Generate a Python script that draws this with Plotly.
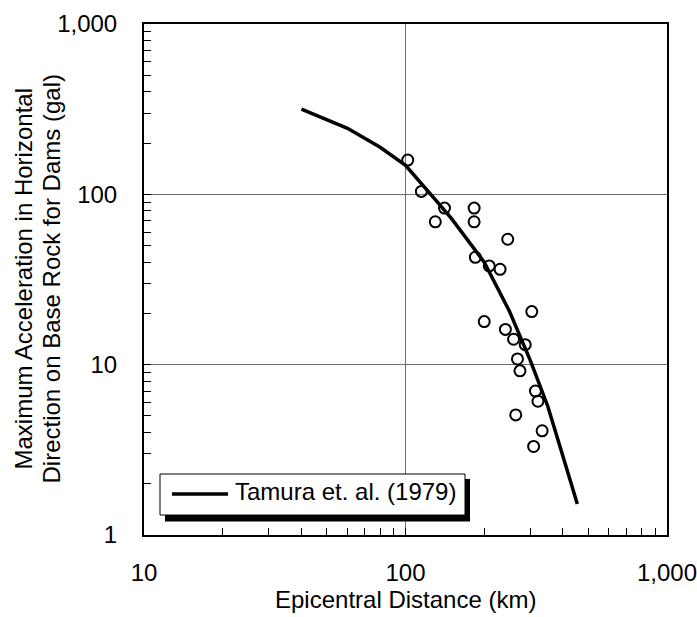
import plotly.graph_objects as go

# Observed data (epicentral distance km, max acceleration gal)
obs_dist = [102, 115, 130, 141, 183, 183, 185, 200, 209, 230, 241, 246, 259, 264, 268, 274, 287, 304, 309, 314, 321, 333]
obs_acc = [159, 104, 69, 83, 83, 69, 42.7, 17.9, 38, 36.3, 16.1, 54.5, 14.1, 5.07, 10.8, 9.2, 13.1, 20.5, 3.31, 7.0, 6.1, 4.09]

# Tamura et al. (1979) curve
curve_dist = [40, 60, 80, 100, 130, 150, 200, 250, 300, 350, 400, 454]
curve_acc = [316, 244, 189, 148, 93, 72, 40, 20.5, 10.6, 5.7, 2.9, 1.52]
curve_name = "Tamura et. al. (1979)"

x_tickvals = [10, 100, 1000]
x_ticktext = ["10", "100", "1,000"]
y_tickvals = [1, 10, 100, 1000]
y_ticktext = ["1", "10", "100", "1,000"]
x_minor = [v * m for m in (10, 100) for v in range(2, 10)]
y_minor = [v * m for m in (1, 10, 100) for v in range(2, 10)]

FONT = "Liberation Sans, Arial, sans-serif"
W, H = 697, 617
L, R, T, B = 144, 30, 24, 82
pw, ph = W - L - R, H - T - B


def px(x):
    return (x - L) / pw


def py(y):
    return (H - B - y) / ph


fig = go.Figure()
fig.add_trace(go.Scatter(x=curve_dist, y=curve_acc, mode="lines", name=curve_name,
                         line=dict(color="black", width=3.5), showlegend=False))
fig.add_trace(go.Scatter(x=obs_dist, y=obs_acc, mode="markers", name="Observed",
                         marker=dict(symbol="circle-open", size=11, color="black",
                                     line=dict(width=2, color="black")),
                         showlegend=False))

axis_common = dict(
    type="log", showline=True, linecolor="black", linewidth=2, mirror=True,
    ticks="inside", ticklen=7, tickwidth=1, tickcolor="black",
    showgrid=True, gridcolor="#6e6e6e", gridwidth=1, zeroline=False,
    tickfont=dict(family=FONT, size=24, color="black"),
    ticklabeloverflow="allow", automargin=False,
)

fig.update_xaxes(range=[0.99999, 3.00001], tickvals=x_tickvals, ticktext=x_ticktext,
                 ticklabelstandoff=15,
                 minor=dict(tickvals=x_minor, ticks="inside", ticklen=7, tickwidth=1,
                            tickcolor="black", showgrid=False),
                 **axis_common)
fig.update_yaxes(range=[-0.00001, 3.00001], tickvals=y_tickvals, ticktext=y_ticktext,
                 ticklabelstandoff=20,
                 minor=dict(tickvals=y_minor, ticks="inside", ticklen=7, tickwidth=1,
                            tickcolor="black", showgrid=False),
                 **axis_common)

shapes = [
    # legend shadow
    dict(type="rect", xref="paper", yref="paper", x0=px(165), x1=px(470), y0=py(521.5), y1=py(479),
         fillcolor="black", line=dict(width=0), layer="above"),
    # legend box
    dict(type="rect", xref="paper", yref="paper", x0=px(160), x1=px(465), y0=py(515), y1=py(474),
         fillcolor="white", line=dict(color="black", width=1), layer="above"),
    # legend sample line
    dict(type="line", xref="paper", yref="paper", x0=px(172), x1=px(228), y0=py(494), y1=py(494),
         line=dict(color="black", width=3.5), layer="above"),
]

annotations = [
    dict(text=curve_name, xref="paper", yref="paper", x=px(233), y=py(491),
         xanchor="left", yanchor="middle", showarrow=False,
         font=dict(family=FONT, size=24, color="black")),
    dict(text="Epicentral Distance (km)", xref="paper", yref="paper", x=0.5, y=py(599),
         xanchor="center", yanchor="middle", showarrow=False,
         font=dict(family=FONT, size=24, color="black")),
    dict(text="Maximum Acceleration in Horizontal", xref="paper", yref="paper", x=px(23), y=0.5,
         xanchor="center", yanchor="middle", textangle=-90, showarrow=False,
         font=dict(family=FONT, size=24, color="black")),
    dict(text="Direction on Base Rock for Dams (gal)", xref="paper", yref="paper", x=px(51), y=0.5,
         xanchor="center", yanchor="middle", textangle=-90, showarrow=False,
         font=dict(family=FONT, size=24, color="black")),
]

fig.update_layout(
    width=W, height=H,
    margin=dict(l=L, r=R, t=T, b=B, autoexpand=False),
    paper_bgcolor="white", plot_bgcolor="white",
    shapes=shapes, annotations=annotations,
    showlegend=False,
    font=dict(family=FONT, size=24, color="black"),
)

fig.write_html("out.html")
